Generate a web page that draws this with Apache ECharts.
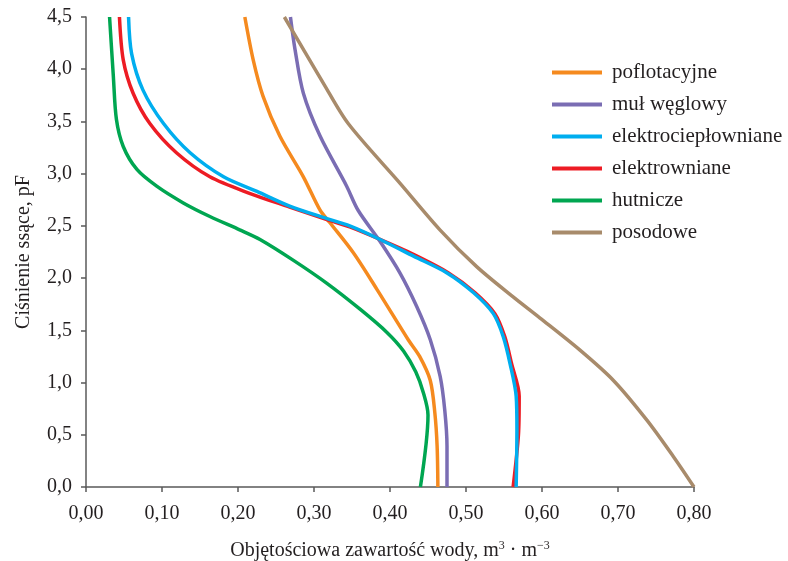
<!DOCTYPE html>
<html>
<head>
<meta charset="utf-8">
<title>Krzywe pF</title>
<script src="https://cdn.jsdelivr.net/npm/echarts@6/dist/echarts.min.js"></script>
<style>
  html, body { margin: 0; padding: 0; background: #fff; }
  #chart { width: 788px; height: 561px; }
</style>
</head>
<body>
<div id="chart"></div>
<script>
// [objętościowa zawartość wody, pF]
const poflotacyjne = [[0.463, 0], [0.462, 0.39], [0.459, 0.71], [0.453, 1.02], [0.439, 1.25], [0.424, 1.41],
  [0.383, 1.89], [0.352, 2.24], [0.321, 2.53], [0.308, 2.65], [0.286, 2.97], [0.255, 3.36], [0.233, 3.74],
  [0.220, 4.09], [0.209, 4.5]]
const mulWeglowy = [[0.475, 0], [0.475, 0.39], [0.472, 0.74], [0.466, 1.06], [0.453, 1.41], [0.435, 1.73],
  [0.413, 2.05], [0.387, 2.35], [0.358, 2.65], [0.343, 2.88], [0.308, 3.36], [0.286, 3.77],
  [0.275, 4.19], [0.269, 4.5]]
const elektrocieplowniane = [[0.566, 0], [0.567, 0.55], [0.566, 0.87], [0.558, 1.18], [0.549, 1.44],
  [0.536, 1.66], [0.510, 1.86], [0.475, 2.05], [0.431, 2.21], [0.387, 2.37], [0.347, 2.50], [0.317, 2.57],
  [0.268, 2.69], [0.225, 2.83], [0.181, 2.97], [0.137, 3.20], [0.102, 3.48], [0.075, 3.80], [0.060, 4.15],
  [0.056, 4.5]]
const elektrowniane = [[0.562, 0], [0.569, 0.5], [0.570, 0.87], [0.560, 1.18], [0.551, 1.44], [0.538, 1.66],
  [0.512, 1.86], [0.477, 2.05], [0.430, 2.23], [0.387, 2.37], [0.347, 2.49], [0.317, 2.56], [0.268, 2.68],
  [0.216, 2.81], [0.163, 2.97], [0.119, 3.20], [0.084, 3.48], [0.062, 3.77], [0.049, 4.09], [0.044, 4.5]]
const hutnicze = [[0.440, 0], [0.450, 0.69], [0.444, 0.90], [0.434, 1.10], [0.418, 1.30], [0.396, 1.48],
  [0.361, 1.70], [0.317, 1.95], [0.273, 2.17], [0.229, 2.37], [0.203, 2.46], [0.163, 2.59], [0.128, 2.72],
  [0.093, 2.88], [0.067, 3.04], [0.049, 3.26], [0.040, 3.52], [0.036, 3.93], [0.031, 4.5]]
const posodowe = [[0.800, 0], [0.773, 0.29], [0.738, 0.64], [0.694, 1.02], [0.650, 1.31], [0.597, 1.62],
  [0.562, 1.82], [0.514, 2.11], [0.466, 2.46], [0.413, 2.91], [0.345, 3.48], [0.312, 3.87], [0.286, 4.19],
  [0.261, 4.5]]

const seriesNames = ['poflotacyjne', 'muł węglowy', 'elektrociepłowniane', 'elektrowniane', 'hutnicze', 'posodowe']
const seriesData = [poflotacyjne, mulWeglowy, elektrocieplowniane, elektrowniane, hutnicze, posodowe]
const seriesColors = ['#f58a1f', '#7a6db3', '#00aeef', '#ed1c24', '#00a651', '#a88b6b']

const font = 'Liberation Serif, Times New Roman, serif'
const axisColor = '#5a5a5a'
const comma = (v, d) => v.toFixed(d).replace('.', ',')

const chart = echarts.init(document.getElementById('chart'))

chart.setOption({
  backgroundColor: '#fff',
  animation: false,
  grid: { left: 86, right: 94, top: 17, bottom: 74, containLabel: false, outerBoundsMode: 'none' },
  legend: {
    orient: 'vertical',
    left: 547,
    top: 57,
    icon: 'rect',
    itemWidth: 50,
    itemHeight: 4,
    itemGap: 11,
    data: seriesNames,
    textStyle: { fontFamily: font, fontSize: 21, color: '#231f20', padding: [0, 0, 0, 5] },
  },
  xAxis: {
    type: 'value',
    min: 0,
    max: 0.8,
    interval: 0.1,
    name: 'Objętościowa zawartość wody, m{sup|3} · m{sup|−3}',
    nameLocation: 'middle',
    nameGap: 53,
    nameTextStyle: {
      fontFamily: font,
      fontSize: 20,
      color: '#231f20',
      rich: { sup: { fontFamily: font, fontSize: 12, verticalAlign: 'top', padding: [0, 0, 10, 0] } },
    },
    splitLine: { show: false },
    axisLine: { show: true, lineStyle: { color: axisColor, width: 1.5 } },
    axisTick: { show: true, length: 5, lineStyle: { color: axisColor, width: 1.5 } },
    axisLabel: {
      fontFamily: font,
      fontSize: 20,
      color: '#231f20',
      margin: 17,
      formatter: (v) => comma(v, 2),
    },
  },
  yAxis: {
    type: 'value',
    min: 0,
    max: 4.5,
    interval: 0.5,
    name: 'Ciśnienie ssące, pF',
    nameLocation: 'middle',
    nameGap: 52,
    nameTextStyle: { fontFamily: font, fontSize: 20, color: '#231f20' },
    splitLine: { show: false },
    axisLine: { show: true, lineStyle: { color: axisColor, width: 1.5 } },
    axisTick: { show: true, length: 5, lineStyle: { color: axisColor, width: 1.5 } },
    axisLabel: {
      fontFamily: font,
      fontSize: 20,
      color: '#231f20',
      margin: 14,
      formatter: (v) => comma(v, 1),
    },
  },
  series: seriesNames.map((name, i) => ({
    name,
    type: 'line',
    data: seriesData[i],
    smooth: 0.3,
    symbol: 'none',
    z: name === 'elektrociepłowniane' ? 3 : 2,
    lineStyle: { width: 3.5, color: seriesColors[i] },
    itemStyle: { color: seriesColors[i] },
  })),
})
</script>
</body>
</html>
